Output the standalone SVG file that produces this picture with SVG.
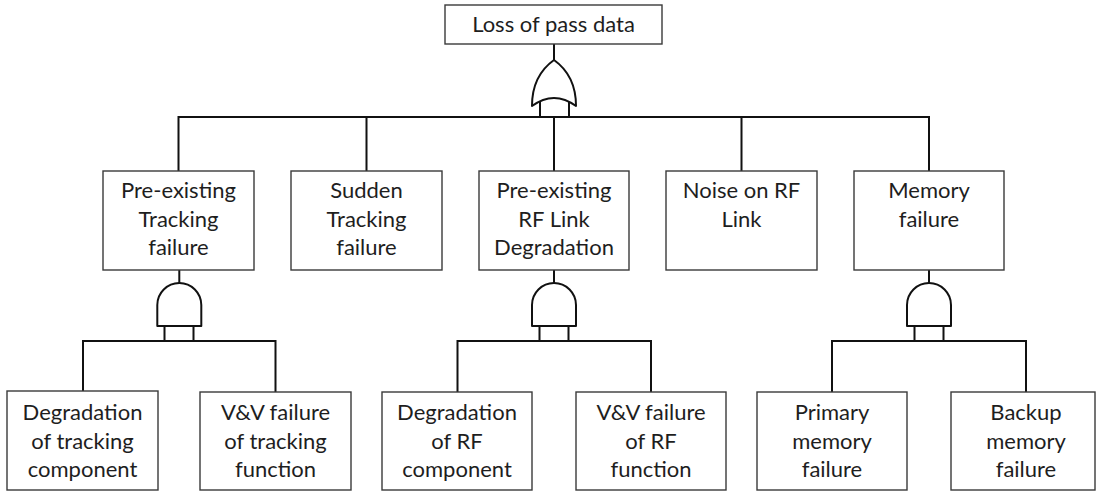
<svg xmlns="http://www.w3.org/2000/svg" width="1096" height="491" viewBox="0 0 1096 491">
<style>
.box{fill:#fff;stroke:#3a3a3a;stroke-width:1.4}
.ln{fill:none;stroke:#111;stroke-width:2}
.gate{fill:#fff;stroke:#111;stroke-width:2;stroke-linejoin:round}
text{font-family:Lato,"Liberation Sans",sans-serif;font-size:22px;fill:#1e1e1e;text-anchor:middle}
</style>
<rect width="1096" height="491" fill="#fff"/>
<g id="connectors">
<path class="ln" d="M554,44 V60"/>
<path class="ln" d="M540,102 V117 M569,102 V117"/>
<path class="ln" d="M178.5,171 V117 H929 V171"/>
<path class="ln" d="M366.5,117 V171 M554,117 V171 M741.5,117 V171"/>
<path class="ln" d="M179.3,270 V283 M554,270 V283 M929,270 V283"/>
<path class="ln" d="M164.5,326 V341 M193.5,326 V341 M83,391 V341 H275.5 V392"/>
<path class="ln" d="M539.5,326 V341 M568.5,326 V341 M457.5,392 V341 H651 V392"/>
<path class="ln" d="M914.5,326 V341 M943.5,326 V341 M832,392 V341 H1026 V392"/>
</g>
<g id="gate-or">
<path class="gate" d="M554,60 C540,70 532,85 532,106 Q554,90 576,106 C576,85 568,70 554,60 Z"/>
</g>
<g id="gate-and-1"><path class="gate" d="M157.3,326 V305 A22,22 0 0 1 201.3,305 V326 Z"/></g>
<g id="gate-and-2"><path class="gate" d="M532,326 V305 A22,22 0 0 1 576,305 V326 Z"/></g>
<g id="gate-and-3"><path class="gate" d="M907,326 V305 A22,22 0 0 1 951,305 V326 Z"/></g>
<g id="top"><rect class="box" x="445" y="5" width="217" height="39"/><text x="553.5" y="32">Loss of pass data</text></g>
<g id="n1"><rect class="box" x="103" y="171" width="151" height="99"/><text x="178.5" y="198">Pre-existing</text><text x="178.5" y="226.5">Tracking</text><text x="178.5" y="255">failure</text></g>
<g id="n2"><rect class="box" x="291" y="171" width="151" height="99"/><text x="366.5" y="198">Sudden</text><text x="366.5" y="226.5">Tracking</text><text x="366.5" y="255">failure</text></g>
<g id="n3"><rect class="box" x="479" y="171" width="150" height="99"/><text x="554" y="198">Pre-existing</text><text x="554" y="226.5">RF Link</text><text x="554" y="255">Degradation</text></g>
<g id="n4"><rect class="box" x="666" y="171" width="151" height="99"/><text x="741.5" y="198">Noise on RF</text><text x="741.5" y="226.5">Link</text></g>
<g id="n5"><rect class="box" x="854" y="171" width="150" height="99"/><text x="929" y="198">Memory</text><text x="929" y="226.5">failure</text></g>
<g id="b1"><rect class="box" x="7" y="391" width="151" height="99"/><text x="82.5" y="420">Degradation</text><text x="82.5" y="448.5">of tracking</text><text x="82.5" y="476.5">component</text></g>
<g id="b2"><rect class="box" x="200" y="392" width="151" height="98"/><text x="275.5" y="420">V&amp;V failure</text><text x="275.5" y="448.5">of tracking</text><text x="275.5" y="476.5">function</text></g>
<g id="b3"><rect class="box" x="382" y="392" width="150" height="98"/><text x="457" y="420">Degradation</text><text x="457" y="448.5">of RF</text><text x="457" y="476.5">component</text></g>
<g id="b4"><rect class="box" x="576" y="392" width="150" height="98"/><text x="651" y="420">V&amp;V failure</text><text x="651" y="448.5">of RF</text><text x="651" y="476.5">function</text></g>
<g id="b5"><rect class="box" x="757" y="392" width="150" height="98"/><text x="832" y="420">Primary</text><text x="832" y="448.5">memory</text><text x="832" y="476.5">failure</text></g>
<g id="b6"><rect class="box" x="951" y="392" width="144" height="98"/><text x="1026" y="420">Backup</text><text x="1026" y="448.5">memory</text><text x="1026" y="476.5">failure</text></g>
</svg>
